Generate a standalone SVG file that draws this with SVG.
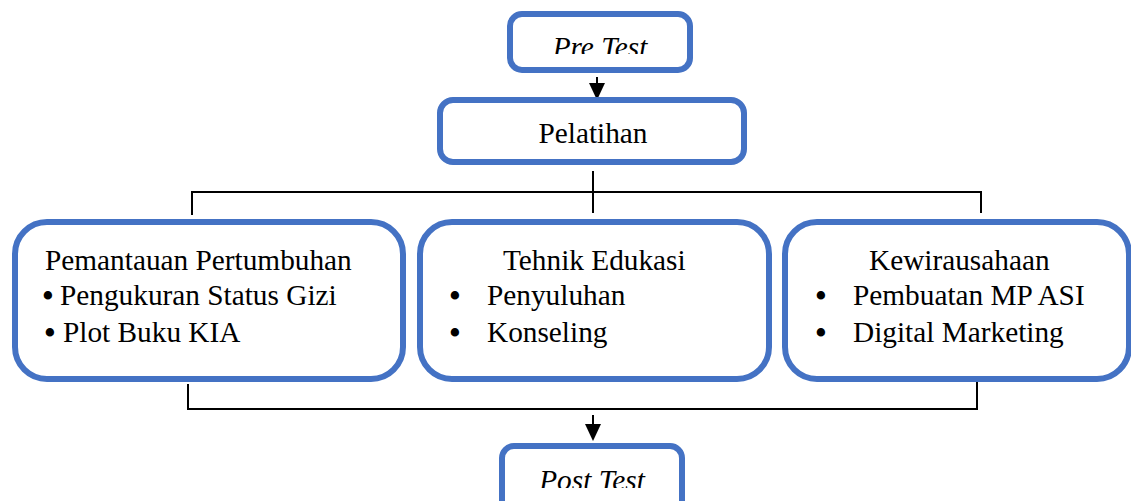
<svg xmlns="http://www.w3.org/2000/svg" width="1131" height="501" viewBox="0 0 1131 501">
<style>
.box{fill:#fff;stroke:#4472C4;stroke-width:6}
.t{font-family:"Liberation Serif","Times New Roman",serif;font-size:29.3px;fill:#000}
.b{font-family:"Liberation Serif","Times New Roman",serif;font-size:35px;fill:#000;text-anchor:middle}
.it{font-style:italic}
.ln{fill:none;stroke:#000;stroke-width:2}
</style>
<defs>
<clipPath id="cpre"><rect x="500" y="0" width="200" height="54"/></clipPath>
<clipPath id="cpost"><rect x="490" y="430" width="210" height="58"/></clipPath>
</defs>
<g id="connectors">
<line class="ln" x1="597" y1="77" x2="597" y2="83"/>
<path d="M589,83 L605,83 L597,100 Z" fill="#000"/>
<line class="ln" x1="593" y1="171" x2="593" y2="213"/>
<polyline class="ln" points="192,215 192,192 981,192 981,213"/>
<polyline class="ln" points="188,384 188,409 977,409 977,380"/>
<line class="ln" x1="593" y1="415" x2="593" y2="424"/>
<path d="M585,424 L601,424 L593,441 Z" fill="#000"/>
</g>
<g id="pretest">
<rect class="box" x="510" y="14" width="180" height="56" rx="12"/>
<text class="t it" x="600" y="56.5" text-anchor="middle" clip-path="url(#cpre)">Pre Test</text>
</g>
<g id="pelatihan">
<rect class="box" x="440" y="100" width="304" height="62" rx="13"/>
<text class="t" x="593" y="143" text-anchor="middle">Pelatihan</text>
</g>
<g id="pemantauan">
<rect class="box" x="15" y="222" width="388" height="157" rx="32"/>
<text class="t" x="45" y="270">Pemantauan Pertumbuhan</text>
<text class="b" x="48" y="308">•</text>
<text class="t" x="60" y="305">Pengukuran Status Gizi</text>
<text class="b" x="50" y="345">•</text>
<text class="t" x="63" y="342">Plot Buku KIA</text>
</g>
<g id="edukasi">
<rect class="box" x="420" y="222" width="349" height="157" rx="32"/>
<text class="t" x="503" y="270">Tehnik Edukasi</text>
<text class="b" x="455" y="308">•</text>
<text class="t" x="487" y="305">Penyuluhan</text>
<text class="b" x="455" y="345">•</text>
<text class="t" x="487" y="342">Konseling</text>
</g>
<g id="kewirausahaan">
<rect class="box" x="785" y="222" width="344" height="157" rx="32"/>
<text class="t" x="869" y="270">Kewirausahaan</text>
<text class="b" x="821" y="308">•</text>
<text class="t" x="853" y="305">Pembuatan MP ASI</text>
<text class="b" x="821" y="345">•</text>
<text class="t" x="853" y="342">Digital Marketing</text>
</g>
<g id="posttest">
<rect class="box" x="502" y="446" width="180" height="70" rx="12"/>
<text class="t it" x="592" y="490" text-anchor="middle" clip-path="url(#cpost)">Post Test</text>
</g>
</svg>
